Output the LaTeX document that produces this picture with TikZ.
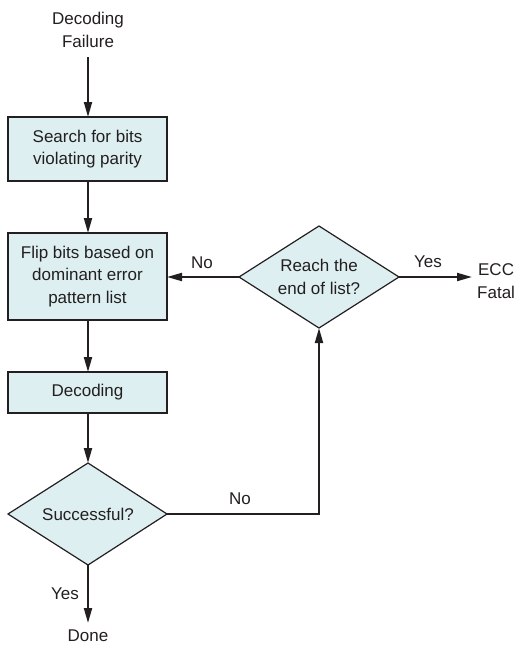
\documentclass[tikz,border=0pt]{standalone}
\usepackage{fontspec}
\setmainfont{Liberation Sans}
\usetikzlibrary{arrows.meta,shapes.geometric}
\definecolor{boxfill}{HTML}{DDEFF1}
\definecolor{ink}{HTML}{231F20}
\begin{document}
\begin{tikzpicture}[x=1pt,y=-1pt,
  every node/.style={font=\fontsize{17}{22.3}\selectfont, text=ink},
  procbox/.style={draw=ink, line width=1.2pt, fill=boxfill},
  plain/.style={align=center, inner sep=0pt},
  flow/.style={draw=ink, line width=2pt, -{Triangle[length=15pt,width=8pt]}}
]
\useasboundingbox (0,0) rectangle (517,645);

% start label
\node[plain] (start) at (88,30) {Decoding\\Failure};

% process boxes
\path[procbox] (8,117) rectangle (167,181);
\node[plain] (search) at (87.5,149) {Search for bits\\violating parity};
\coordinate (searchT) at (88,117);
\coordinate (searchB) at (88,181);

\path[procbox] (8,233) rectangle (167,320);
\node[plain] (flip) at (87.5,276.5) {Flip bits based on\\dominant error\\pattern list};
\coordinate (flipT) at (88,233);
\coordinate (flipB) at (88,320);
\coordinate (flipR) at (167,277);

\path[procbox] (8,372) rectangle (167,413);
\node[plain] (dec) at (87.5,392.5) {Decoding};
\coordinate (decT) at (88,372);
\coordinate (decB) at (88,413);

% decisions
\path[procbox] (8,514) -- (88,463) -- (167,514) -- (88,565) -- cycle;
\node[plain] (succ) at (88,514) {Successful?};
\coordinate (succT) at (88,463);
\coordinate (succB) at (88,565);
\coordinate (succR) at (167,514);

\path[procbox] (239,277) -- (319,226) -- (399,277) -- (319,328) -- cycle;
\node[plain] (reach) at (319,277) {Reach the\\end of list?};
\coordinate (reachB) at (319,328);
\coordinate (reachL) at (239,277);
\coordinate (reachR) at (399,277);
\coordinate (corner) at (319,514);

% end labels
\node[plain, anchor=west] (ecc) at (477,281) {ECC\\Fatal};
\node[plain] (done) at (88,636) {Done};
\coordinate (eccIn) at (472,277);
\coordinate (doneIn) at (88,623);
\coordinate (startOut) at (88,57);

% connectors
\draw[flow] (startOut) -- (searchT);
\draw[flow] (searchB) -- (flipT);
\draw[flow] (flipB) -- (decT);
\draw[flow] (decB) -- (succT);
\draw[flow] (succB) -- (doneIn);
\draw[flow] (succR) -- (corner) -- (reachB);
\draw[flow] (reachL) -- (flipR);
\draw[flow] (reachR) -- (eccIn);

% branch labels
\node[plain] (yes1) at (65,594) {Yes};
\node[plain] (no1) at (240,499) {No};
\node[plain] (no2) at (202,263) {No};
\node[plain] (yes2) at (428,262) {Yes};
\end{tikzpicture}
\end{document}
